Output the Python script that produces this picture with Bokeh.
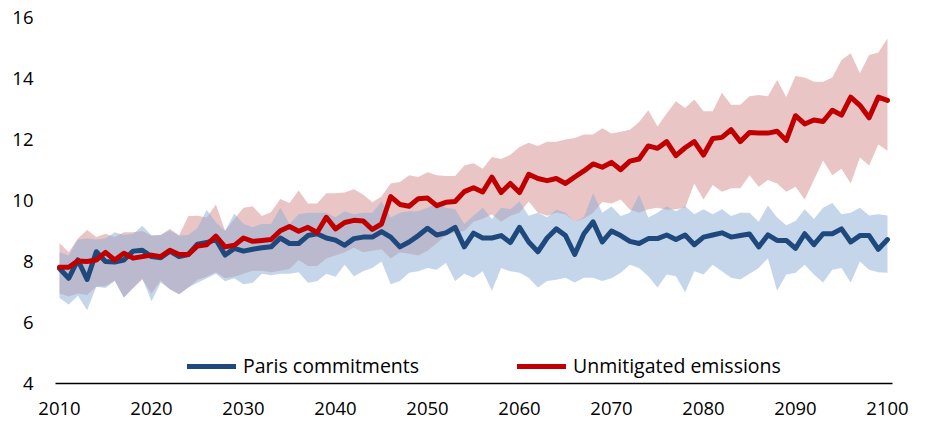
from bokeh.plotting import figure
from bokeh.models import Range1d, FixedTicker, Legend, LegendItem, ColumnDataSource
from bokeh.embed import file_html
from bokeh.resources import INLINE

years = list(range(2010, 2101))

paris = [7.77, 7.45, 8.05, 7.41, 8.32, 8.00, 7.98, 8.05, 8.34, 8.37,
         8.16, 8.12, 8.34, 8.16, 8.23, 8.57, 8.62, 8.72, 8.21, 8.43,
         8.34, 8.40, 8.45, 8.48, 8.77, 8.59, 8.59, 8.85, 8.91, 8.77,
         8.70, 8.53, 8.75, 8.80, 8.80, 8.98, 8.80, 8.48, 8.64, 8.85,
         9.09, 8.87, 8.94, 9.12, 8.48, 8.93, 8.77, 8.77, 8.85, 8.62,
         9.12, 8.64, 8.32, 8.77, 9.07, 8.85, 8.23, 8.91, 9.30, 8.64,
         9.00, 8.85, 8.66, 8.59, 8.75, 8.75, 8.87, 8.72, 8.87, 8.55,
         8.80, 8.87, 8.94, 8.80, 8.85, 8.90, 8.48, 8.87, 8.69, 8.69,
         8.43, 8.91, 8.55, 8.91, 8.91, 9.07, 8.64, 8.85, 8.85, 8.40,
         8.72]

unmitigated = [7.81, 7.81, 8.02, 8.00, 8.05, 8.30, 8.05, 8.27, 8.11, 8.16,
               8.21, 8.16, 8.37, 8.23, 8.23, 8.51, 8.55, 8.83, 8.48, 8.53,
               8.77, 8.66, 8.69, 8.72, 9.01, 9.15, 8.99, 9.12, 8.95, 9.45,
               9.07, 9.28, 9.35, 9.33, 9.05, 9.23, 10.13, 9.87, 9.81, 10.06,
               10.08, 9.83, 9.94, 9.97, 10.29, 10.42, 10.28, 10.77, 10.26, 10.56,
               10.26, 10.86, 10.72, 10.65, 10.72, 10.56, 10.77, 10.97, 11.20, 11.09,
               11.25, 11.01, 11.29, 11.36, 11.79, 11.71, 11.93, 11.47, 11.73, 11.93,
               11.49, 12.03, 12.07, 12.32, 11.93, 12.23, 12.21, 12.21, 12.27, 11.97,
               12.78, 12.51, 12.64, 12.59, 12.96, 12.80, 13.39, 13.12, 12.71, 13.39,
               13.28]

paris_high = [8.30, 8.20, 8.72, 8.75, 8.72, 8.75, 8.96, 8.87, 8.90, 9.17,
              8.85, 8.87, 9.01, 8.85, 8.87, 9.10, 9.70, 9.28, 9.00, 9.57,
              9.23, 9.12, 9.23, 9.23, 9.76, 9.23, 9.55, 9.60, 9.60, 9.60,
              9.45, 9.65, 9.55, 9.60, 9.60, 9.97, 9.44, 9.60, 9.65, 9.65,
              9.76, 9.92, 9.76, 9.71, 9.23, 9.50, 9.76, 9.39, 9.76, 9.71,
              9.97, 9.50, 9.60, 9.45, 9.70, 9.60, 9.30, 9.45, 10.24, 9.60,
              9.80, 9.49, 9.60, 10.19, 9.44, 9.60, 9.81, 9.65, 9.81, 9.55,
              9.71, 9.55, 9.71, 9.49, 9.60, 9.60, 9.30, 9.84, 9.44, 9.19,
              9.33, 9.71, 9.39, 9.76, 9.92, 9.55, 9.60, 9.76, 9.51, 9.55,
              9.51]

paris_low = [6.80, 6.59, 6.88, 6.40, 7.17, 7.13, 7.36, 6.81, 7.13, 7.45,
             6.70, 7.31, 7.09, 6.93, 7.15, 7.30, 7.45, 7.60, 7.35, 7.45,
             7.25, 7.30, 7.60, 7.55, 7.60, 7.60, 7.65, 7.30, 7.35, 7.60,
             7.50, 7.89, 7.52, 7.68, 7.79, 8.00, 7.25, 7.36, 7.63, 7.68,
             7.79, 7.73, 7.95, 7.36, 7.60, 7.47, 7.68, 7.04, 7.79, 7.68,
             7.63, 7.47, 7.15, 7.36, 7.40, 7.47, 7.31, 7.47, 7.47, 7.36,
             7.45, 7.63, 7.89, 7.79, 7.52, 7.15, 7.57, 7.52, 6.99, 7.68,
             7.57, 7.89, 7.68, 7.47, 7.41, 7.60, 7.79, 8.11, 7.04, 7.57,
             7.63, 7.89, 7.57, 7.31, 7.73, 7.79, 7.31, 8.00, 7.73, 7.65,
             7.63]

unmit_high = [8.61, 8.30, 8.75, 9.03, 8.80, 8.91, 8.80, 8.96, 8.96, 9.00,
              8.85, 8.87, 9.07, 8.85, 9.49, 9.50, 9.44, 9.87, 9.01, 9.39,
              9.76, 9.81, 9.49, 9.62, 10.05, 9.92, 10.33, 9.90, 9.90, 10.24,
              10.24, 10.26, 10.37, 10.20, 9.94, 10.13, 10.56, 10.61, 10.83, 10.77,
              10.93, 10.83, 10.80, 10.80, 11.15, 11.22, 11.04, 11.43, 11.36, 11.50,
              11.75, 11.89, 11.79, 11.93, 11.93, 12.00, 12.05, 12.16, 12.16, 12.37,
              12.20, 12.25, 12.32, 12.57, 12.96, 12.43, 12.85, 13.25, 13.03, 13.31,
              12.93, 12.93, 13.53, 13.14, 13.14, 13.42, 13.46, 13.42, 13.95, 13.39,
              14.08, 14.03, 13.89, 13.89, 14.03, 14.61, 14.83, 14.17, 14.77, 14.85,
              15.31]

unmit_low = [6.95, 6.85, 6.95, 6.90, 7.17, 7.20, 7.38, 6.83, 7.13, 7.41,
             6.95, 7.38, 7.09, 6.93, 7.15, 7.40, 7.50, 7.65, 7.45, 7.50,
             7.60, 7.70, 7.70, 7.65, 7.70, 7.75, 8.05, 7.85, 7.85, 8.10,
             8.20, 8.30, 8.45, 8.30, 8.35, 8.40, 8.10, 8.30, 8.25, 8.20,
             8.35, 8.60, 8.85, 8.95, 9.00, 9.30, 9.40, 9.55, 9.30, 9.50,
             9.60, 9.97, 9.60, 9.50, 9.60, 9.55, 9.30, 9.40, 9.60, 9.95,
             9.90, 10.03, 9.70, 9.60, 9.71, 9.76, 9.70, 9.71, 9.76, 10.56,
             10.03, 10.51, 10.29, 10.40, 10.40, 10.83, 10.45, 10.67, 10.56, 10.29,
             10.45, 10.03, 10.67, 11.31, 10.83, 11.04, 10.56, 11.41, 11.15, 11.84,
             11.63]

x_ticks = [2010, 2020, 2030, 2040, 2050, 2060, 2070, 2080, 2090, 2100]
y_ticks = [4, 6, 8, 10, 12, 14, 16]
series_labels = ["Paris commitments", "Unmitigated emissions"]

FONT = "Open Sans"

source = ColumnDataSource(dict(
    year=years, paris=paris, unmit=unmitigated,
    p_lo=paris_low, p_hi=paris_high, u_lo=unmit_low, u_hi=unmit_high,
))

# frame spans the whole canvas below/right so the pinned x axis labels are not clipped
p = figure(width=909, height=421, output_backend="svg", toolbar_location=None,
           x_range=Range1d(2007.5, 2102.391), y_range=Range1d(2.754, y_ticks[-1]),
           min_border_left=36, min_border_right=0, min_border_top=17,
           min_border_bottom=0)
p.outline_line_color = None
p.xgrid.visible = False
p.ygrid.visible = False
p.background_fill_color = "white"
p.border_fill_color = "white"

# bands
p.varea(x="year", y1="u_lo", y2="u_hi", source=source, fill_color="#eac5c5")
p.varea(x="year", y1="p_lo", y2="p_hi", source=source, fill_color="#8badd5", fill_alpha=0.5)

# lines
blue = p.line("year", "paris", source=source, line_color="#1f497d", line_width=5,
              line_join="round", line_cap="round")
red = p.line("year", "unmit", source=source, line_color="#c00000", line_width=5,
             line_join="round", line_cap="round")

# x axis, pinned at the baseline value 4
xa = p.xaxis[0]
xa.fixed_location = y_ticks[0]
xa.bounds = (2009.565, 2100.543)
xa.ticker = FixedTicker(ticks=x_ticks)
xa.axis_line_color = "#000000"
xa.axis_line_width = 1.3
xa.major_tick_line_color = None
xa.minor_tick_line_color = None
xa.major_tick_out = 0
xa.major_tick_in = 0
xa.major_label_standoff = 19
xa.major_label_text_font = FONT
xa.major_label_text_font_size = "18.5px"
xa.major_label_text_color = "#000000"

# y axis
ya = p.yaxis[0]
ya.ticker = FixedTicker(ticks=y_ticks)
ya.axis_line_color = None
ya.major_tick_line_color = None
ya.minor_tick_line_color = None
ya.major_tick_out = 0
ya.major_tick_in = 0
ya.major_label_standoff = 3
ya.major_label_text_font = FONT
ya.major_label_text_font_size = "18.5px"
ya.major_label_text_color = "#000000"

legend = Legend(
    items=[LegendItem(label=series_labels[0], renderers=[blue]),
           LegendItem(label=series_labels[1], renderers=[red])],
    orientation="horizontal", location=(151, 42),
    border_line_color=None, background_fill_alpha=0,
    padding=0, margin=0, spacing=98,
    glyph_width=49, glyph_height=20, label_standoff=7,
    label_text_font=FONT, label_text_font_size="19.5px",
    label_text_color="#000000",
)
p.add_layout(legend)

open("out.html", "w").write(file_html(p, INLINE))
